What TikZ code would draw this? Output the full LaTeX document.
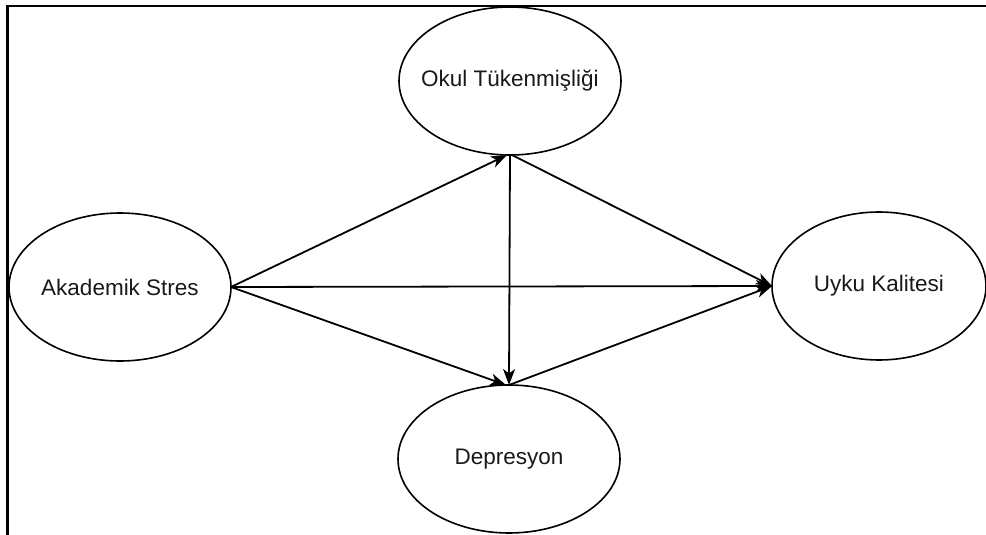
\documentclass[tikz,border=0pt]{standalone}
\usepackage{fontspec}
\setmainfont{Liberation Sans}
\usetikzlibrary{shapes.geometric,arrows.meta}
\begin{document}
\begin{tikzpicture}[x=1pt,y=-1pt,
  var/.style={ellipse,draw=black,line width=1.6pt,inner xsep=-40pt,inner ysep=0pt,outer sep=0pt,
    minimum width=222pt,minimum height=148pt,font=\fontsize{22.5}{26}\selectfont,text=black!90},
  conn/.style={draw=black,line width=1.8pt,-{Stealth[length=16pt,width=12pt,inset=4.5pt]}}]
\useasboundingbox (0,0) rectangle (986,535);
\draw[line width=2.2pt] (7.5,535) -- (7.5,6) -- (986,6);
\node[var] (okul) at (510,81) {Okul Tükenmişliği};
\node[var] (dep) at (509,459) {Depresyon};
\node[var] (aka) at (120,287) {Akademik Stres};
\node[var,minimum width=214pt] (uyku) at (879,286) {Uyku Kalitesi};
\coordinate (okulin) at ([xshift=-3pt]okul.south);
\coordinate (okulout) at ([xshift=2pt]okul.south);
\coordinate (depin) at ([xshift=-3pt]dep.north);
\draw[conn] (aka.east) -- (okulin);
\draw[conn] (aka.east) -- (depin);
\draw[conn] (aka.east) -- (uyku.west);
\draw[conn] (okul.south) -- (dep.north);
\draw[conn] (okulout) -- (uyku.west);
\draw[conn] (dep.north) -- (uyku.west);
\end{tikzpicture}
\end{document}
